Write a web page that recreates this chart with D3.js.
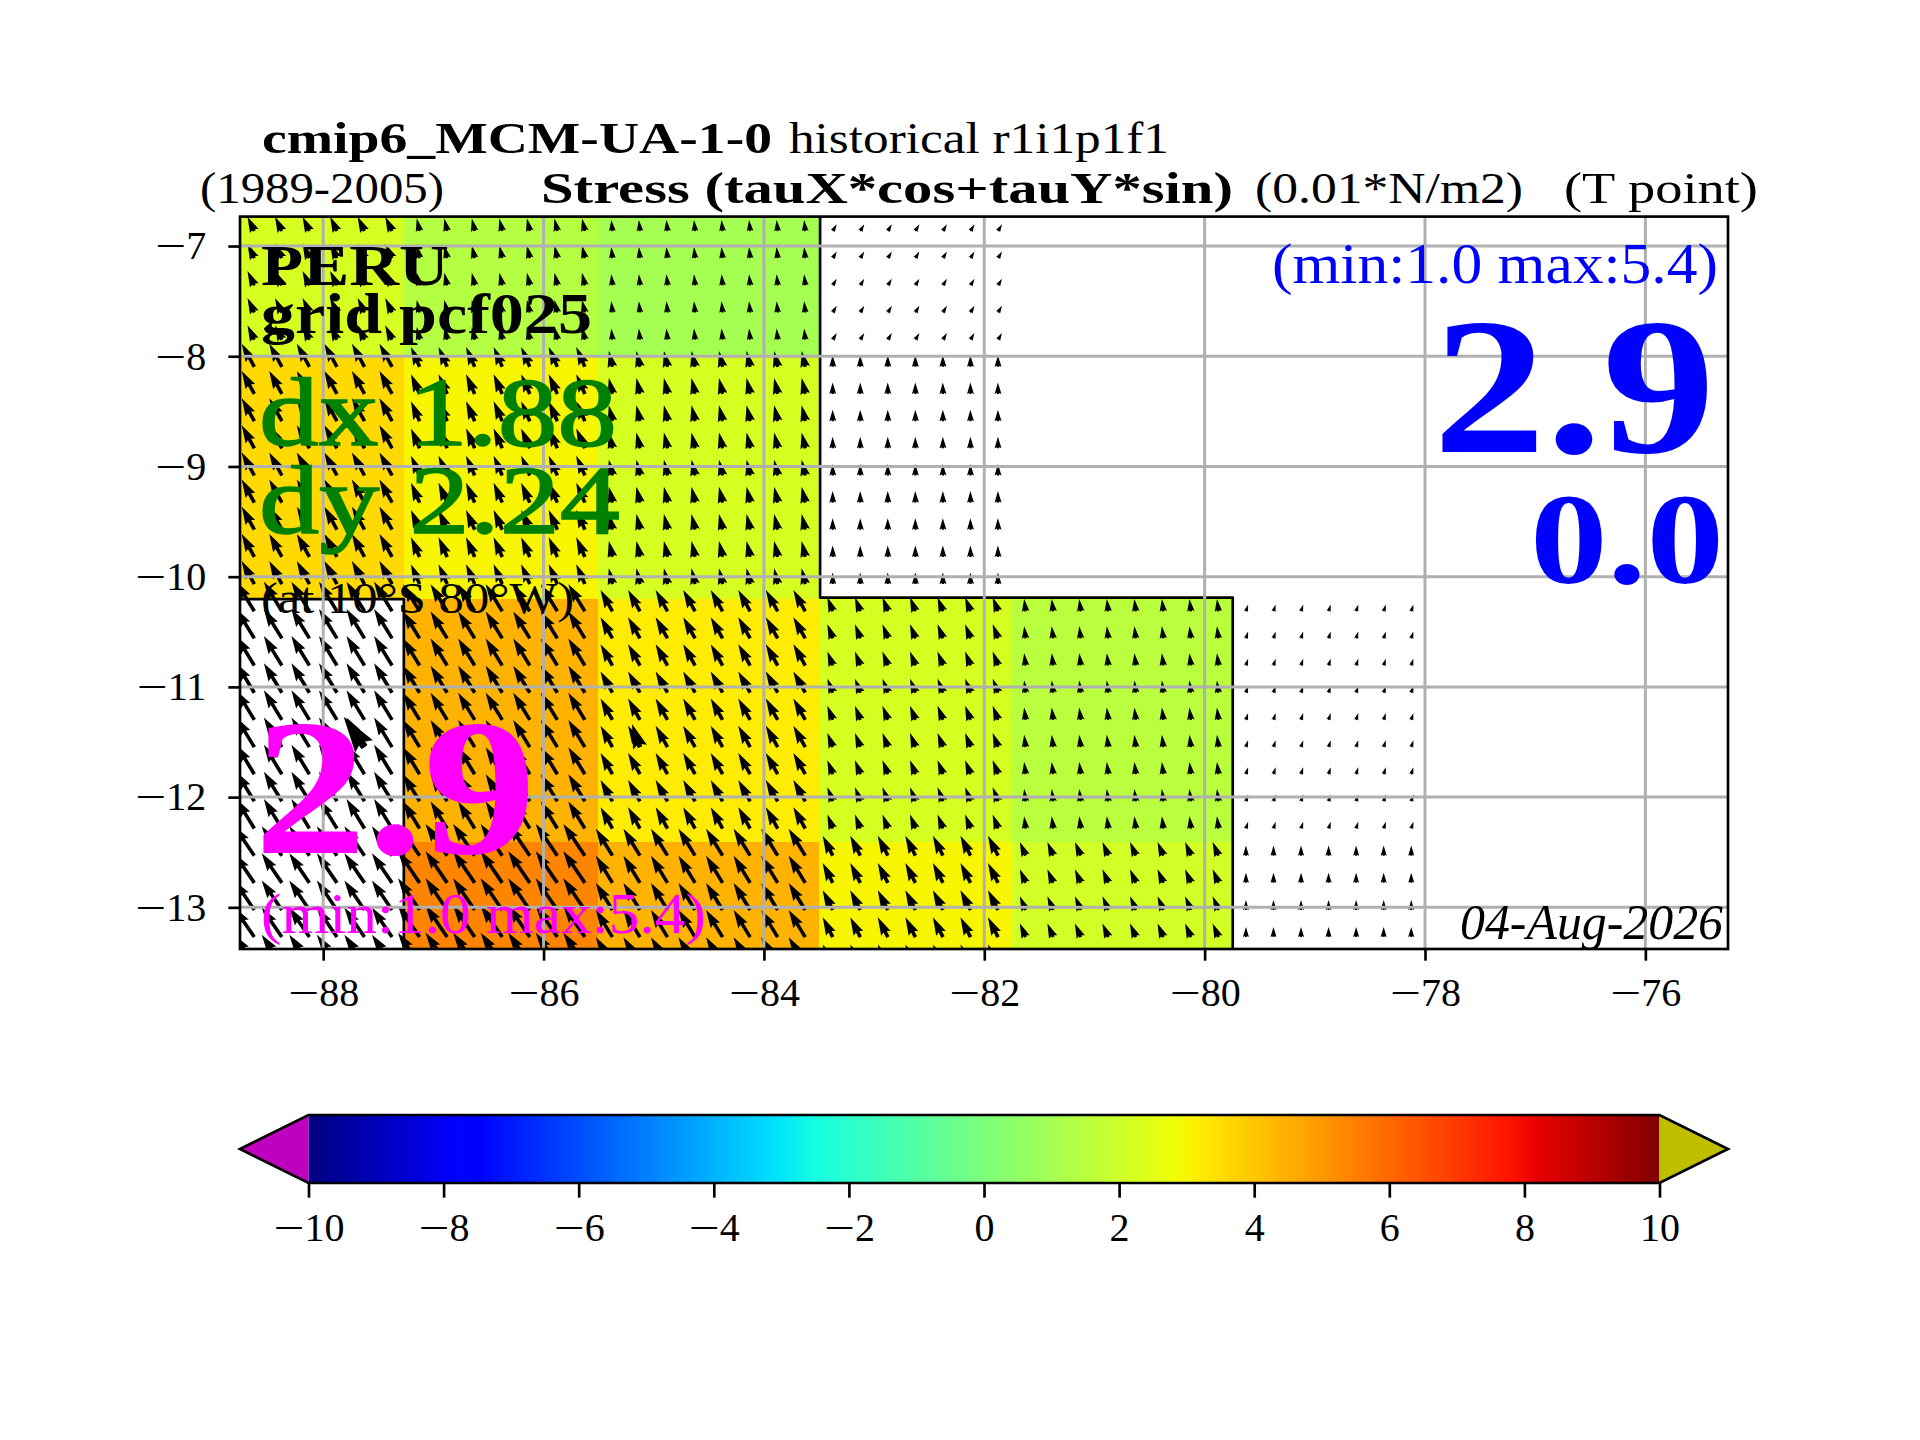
<!DOCTYPE html>
<html>
<head>
<meta charset="utf-8">
<script src="https://cdn.jsdelivr.net/npm/d3@7"></script>
<style>
	html, body { margin: 0; padding: 0; background: #fff; }
	text { font-family: "Liberation Serif", "DejaVu Serif", serif; }
</style>
</head>
<body>
<div id="vis"></div>
<script>
// cell edges of the regridded field
const LON_EDGES = [-88.755, -87.268, -85.507, -83.5, -81.76, -79.745, -78.0];
const LAT_EDGES = [-6.733, -7.989, -10.203, -12.408, -13.378];

// colour values per cell, null = masked (white)
const CELL_VALUES = [
	[2.2, 1.4, 1.0, null, null, null],
	[3.6, 3.0, 2.2, null, null, null],
	[null, 4.4, 3.2, 2.2, 1.5, null],
	[null, 5.4, 4.4, 3.0, 2.1, null]
];

// stress components per cell, null = no arrows
const TAU_X = [
	[-0.95, -0.4, -0.15, 0.55, null, null],
	[-1.75, -1.2, -0.5, -0.02, null, null],
	[-2.5, -2.3, -1.65, -0.75, -0.2, 0.3],
	[-2.8, -3.0, -2.3, -1.4, -0.8, 0.0]
];
const TAU_Y = [
	[2.0, 1.75, 1.55, 0.93, null, null],
	[3.2, 2.75, 2.2, 1.6, null, null],
	[4.1, 3.75, 2.95, 1.95, 1.7, 0.95],
	[4.1, 4.4, 3.75, 2.75, 1.9, 1.4]
];

// arrow grid
const ARROW_LONS = [-88.625, -88.375, -88.125, -87.875, -87.625, -87.375, -87.125, -86.875, -86.625, -86.375, -86.125,
	-85.875, -85.625, -85.375, -85.125, -84.875, -84.625, -84.375, -84.125, -83.875, -83.625, -83.375,
	-83.125, -82.875, -82.625, -82.375, -82.125, -81.875, -81.625, -81.375, -81.125, -80.875, -80.625,
	-80.375, -80.125, -79.875, -79.625, -79.375, -79.125, -78.875, -78.625, -78.375, -78.125];
const ARROW_LATS = [-6.864, -7.110, -7.357, -7.603, -7.850, -8.096, -8.342, -8.589, -8.835, -9.082, -9.328, -9.574,
	-9.821, -10.067, -10.314, -10.560, -10.806, -11.053, -11.299, -11.546, -11.792, -12.038, -12.285,
	-12.531, -12.778, -13.024, -13.270, -13.517];

// the two heavier arrows: lon, lat, tauX, tauY
const BOLD_ARROWS = [
	[-87.625, -11.546, -2.9, 4.2],
	[-85.125, -11.546, -1.1, 3.2]
];

// black contour round the masked cells
const CONTOURS = [
	[[-88.755, -10.203], [-87.268, -10.203], [-87.268, -13.378]],
	[[-83.49, -6.733], [-83.49, -10.19], [-79.745, -10.19], [-79.745, -13.378]]
];

// ticks
const X_TICKS = [-88, -86, -84, -82, -80, -78, -76];
const Y_TICKS = [-13, -12, -11, -10, -9, -8, -7];
const CBAR_TICKS = [-10, -8, -6, -4, -2, 0, 2, 4, 6, 8, 10];

// jet colormap anchors
const JET_R = [[0, 0], [0.35, 0], [0.66, 1], [0.89, 1], [1, 0.5]];
const JET_G = [[0, 0], [0.125, 0], [0.375, 1], [0.64, 1], [0.91, 0], [1, 0]];
const JET_B = [[0, 0.5], [0.11, 1], [0.34, 1], [0.65, 0], [1, 0]];

// set constants
const FRAME_WIDTH = 1920;
const FRAME_HEIGHT = 1440;
const PLOT = {left: 240, right: 1728, top: 216.6, bottom: 949};
const CBAR = {left: 308.5, right: 1659.5, top: 1115, bottom: 1183, tipLeft: 240, tipRight: 1728};
const LW = 2.67;
const GRID_W = 3;
const TICK_LEN = 11.67;
const ARROW_SCALE = 7.2;
const ARROW_W = 3.6;
const BOLD_W = 7.2;
const MINUS_W = 31;

const FRAME = d3.select("#vis")
				.append("svg")
					.attr("width", FRAME_WIDTH)
					.attr("height", FRAME_HEIGHT)
					.style("display", "block");

const X_SCALE = d3.scaleLinear().domain([LON_EDGES[0], -75.25]).range([PLOT.left, PLOT.right]);
const Y_SCALE = d3.scaleLinear().domain([LAT_EDGES[4], LAT_EDGES[0]]).range([PLOT.bottom, PLOT.top]);
const C_SCALE = d3.scaleLinear().domain([-10, 10]).range([CBAR.left, CBAR.right]);

function channel(anchors) {
	return d3.scaleLinear().domain(anchors.map(a => a[0])).range(anchors.map(a => a[1]));
}
const R_CH = channel(JET_R), G_CH = channel(JET_G), B_CH = channel(JET_B);
function jet(value) {
	const t = (value + 10) / 20;
	return d3.rgb(R_CH(t) * 255, G_CH(t) * 255, B_CH(t) * 255).formatHex();
}

const defs = FRAME.append("defs");
defs.append("clipPath").attr("id", "plot-clip")
	.append("rect")
		.attr("x", PLOT.left)
		.attr("y", PLOT.top)
		.attr("width", PLOT.right - PLOT.left)
		.attr("height", PLOT.bottom - PLOT.top);

const plot = FRAME.append("g").attr("clip-path", "url(#plot-clip)");

// Cells
CELL_VALUES.forEach((row, r) => {
	row.forEach((val, c) => {
		if (val === null) return;
		plot.append("rect")
			.attr("x", X_SCALE(LON_EDGES[c]))
			.attr("y", Y_SCALE(LAT_EDGES[r]))
			.attr("width", X_SCALE(LON_EDGES[c + 1]) - X_SCALE(LON_EDGES[c]))
			.attr("height", Y_SCALE(LAT_EDGES[r + 1]) - Y_SCALE(LAT_EDGES[r]))
			.attr("fill", jet(val))
			.attr("shape-rendering", "crispEdges");
	});
});

// Contour
const LINE = d3.line().x(d => X_SCALE(d[0])).y(d => Y_SCALE(d[1]));
plot.selectAll(".contour")
	.data(CONTOURS)
	.enter()
	.append("path")
		.attr("class", "contour")
		.attr("d", LINE)
		.attr("fill", "none")
		.attr("stroke", "black")
		.attr("stroke-width", LW)
		.attr("stroke-linejoin", "round");

// quiver arrow along +x, tail at origin
function arrowPath(len, w) {
	const hl = 5 * w, ha = 4.5 * w, hw = 1.5 * w, sw = w / 2;
	let pts;
	if (len >= hl) {
		pts = [[0, -sw], [len - ha, -sw], [len - hl, -hw], [len, 0], [len - hl, hw], [len - ha, sw], [0, sw]];
	} else {
		const k = len / hl;
		pts = [[0, -sw], [hl - ha, -sw], [0, -hw], [hl, 0], [0, hw], [hl - ha, sw], [0, sw]]
			.map(p => [p[0] * k, p[1] * k]);
	}
	return "M" + pts.map(p => p.join(",")).join("L") + "Z";
}

function addArrow(lon, lat, tx, ty, w) {
	const len = Math.hypot(tx, ty) * ARROW_SCALE;
	const angle = Math.atan2(-ty, tx) * 180 / Math.PI;
	plot.append("path")
		.attr("d", arrowPath(len, w))
		.attr("transform", "translate(" + X_SCALE(lon) + "," + Y_SCALE(lat) + ") rotate(" + angle + ")")
		.attr("fill", "black");
}

// Arrows
ARROW_LATS.forEach(lat => {
	ARROW_LONS.forEach(lon => {
		const c = d3.bisectLeft(LON_EDGES, lon) - 1;
		const r = LAT_EDGES.filter(e => e > lat).length - 1;
		const row = Math.min(r, TAU_X.length - 1);
		const tx = TAU_X[row][c], ty = TAU_Y[row][c];
		if (tx === null) return;
		addArrow(lon, lat, tx, ty, ARROW_W);
	});
});
BOLD_ARROWS.forEach(d => addArrow(d[0], d[1], d[2], d[3], BOLD_W));

// Grid
plot.selectAll(".gx")
	.data(X_TICKS)
	.enter()
	.append("line")
		.attr("x1", d => X_SCALE(d)).attr("x2", d => X_SCALE(d))
		.attr("y1", PLOT.top).attr("y2", PLOT.bottom)
		.attr("stroke", "#b0b0b0").attr("stroke-width", GRID_W);
plot.selectAll(".gy")
	.data(Y_TICKS)
	.enter()
	.append("line")
		.attr("x1", PLOT.left).attr("x2", PLOT.right)
		.attr("y1", d => Y_SCALE(d)).attr("y2", d => Y_SCALE(d))
		.attr("stroke", "#b0b0b0").attr("stroke-width", GRID_W);

// Axes
function styleAxis(g) {
	g.select(".domain").remove();
	g.selectAll(".tick line").attr("stroke", "black").attr("stroke-width", LW);
	g.selectAll(".tick text")
		.attr("fill", "black")
		.style("font-family", '"Liberation Serif", serif')
		.style("font-size", "40px")
		.each(function(d) {
			// the wide minus sign of the reference
			const t = d3.select(this);
			t.text("");
			if (d < 0) {
				t.append("tspan")
					.attr("textLength", MINUS_W)
					.attr("lengthAdjust", "spacingAndGlyphs")
					.text("\u2212");
			}
			t.append("tspan").text(Math.abs(d));
		});
}
FRAME.append("g")
	.attr("transform", "translate(0," + PLOT.bottom + ")")
	.call(d3.axisBottom(X_SCALE).tickValues(X_TICKS).tickSize(TICK_LEN).tickPadding(17))
	.call(styleAxis);
FRAME.append("g")
	.attr("transform", "translate(" + PLOT.left + ",0)")
	.call(d3.axisLeft(Y_SCALE).tickValues(Y_TICKS).tickSize(TICK_LEN).tickPadding(22))
	.call(styleAxis);

// Plot frame
FRAME.append("rect")
	.attr("x", PLOT.left)
	.attr("y", PLOT.top)
	.attr("width", PLOT.right - PLOT.left)
	.attr("height", PLOT.bottom - PLOT.top)
	.attr("fill", "none")
	.attr("stroke", "black")
	.attr("stroke-width", LW);

// Colorbar gradient
const grad = defs.append("linearGradient").attr("id", "jet-grad");
const stops = Array.from(new Set([...JET_R, ...JET_G, ...JET_B].map(a => a[0]))).sort((a, b) => a - b);
stops.forEach(t => {
	grad.append("stop")
		.attr("offset", t)
		.attr("stop-color", jet(t * 20 - 10));
});
const cmid = (CBAR.top + CBAR.bottom) / 2;
FRAME.append("rect")
	.attr("x", CBAR.left)
	.attr("y", CBAR.top)
	.attr("width", CBAR.right - CBAR.left)
	.attr("height", CBAR.bottom - CBAR.top)
	.attr("fill", "url(#jet-grad)");
FRAME.append("path")
	.attr("d", "M" + CBAR.left + "," + CBAR.top + "L" + CBAR.tipLeft + "," + cmid + "L" + CBAR.left + "," + CBAR.bottom + "Z")
	.attr("fill", "#bf00bf");
FRAME.append("path")
	.attr("d", "M" + CBAR.right + "," + CBAR.top + "L" + CBAR.tipRight + "," + cmid + "L" + CBAR.right + "," + CBAR.bottom + "Z")
	.attr("fill", "#bfbf00");
FRAME.append("path")
	.attr("d", "M" + CBAR.left + "," + CBAR.top + "L" + CBAR.right + "," + CBAR.top + "L" + CBAR.tipRight + "," + cmid +
		"L" + CBAR.right + "," + CBAR.bottom + "L" + CBAR.left + "," + CBAR.bottom + "L" + CBAR.tipLeft + "," + cmid + "Z")
	.attr("fill", "none")
	.attr("stroke", "black")
	.attr("stroke-width", LW)
	.attr("stroke-linejoin", "miter");
FRAME.append("g")
	.attr("transform", "translate(0," + CBAR.bottom + ")")
	.call(d3.axisBottom(C_SCALE).tickValues(CBAR_TICKS).tickSize(TICK_LEN + 3).tickPadding(15))
	.call(styleAxis);

// Text labels
function label(str, x1, x2, y, size, color, weight, style, heavy) {
	FRAME.append("text")
		.attr("x", x1)
		.attr("y", y)
		.attr("textLength", x2 - x1)
		.attr("lengthAdjust", "spacingAndGlyphs")
		.style("font-size", size + "px")
		.style("font-weight", weight || "normal")
		.style("font-style", style || "normal")
		.attr("fill", color)
		.attr("stroke", heavy ? color : "none")
		.attr("stroke-width", heavy || 0)
		.text(str);
}

label("cmip6_MCM-UA-1-0", 262, 772, 153, 44, "black", "bold");
label("historical r1i1p1f1", 789, 1169, 153, 44, "black");
label("(1989-2005)", 200, 444, 203, 44, "black");
label("Stress (tauX*cos+tauY*sin)", 541, 1233, 203, 44, "black", "bold");
label("(0.01*N/m2)", 1255, 1523, 203, 44, "black");
label("(T point)", 1564, 1758, 203, 44, "black");

label("PERU", 261, 449, 285, 58, "black", "bold");
label("grid pcf025", 261, 592, 333, 56, "black", "bold");
label("dx 1.88", 259, 617, 445, 98, "green", "normal", "normal", 1.5);
label("dy 2.24", 259, 620, 533, 98, "green", "normal", "normal", 1.5);
label("(at 10\u00b0S 80\u00b0W)", 261, 574, 613, 44, "black");
label("2.9", 254, 536, 853, 196, "#ff00ff", "bold");
label("(min:1.0 max:5.4)", 261, 706, 933, 56, "#ff00ff");

label("(min:1.0 max:5.4)", 1272, 1718, 283, 56, "blue");
label("2.9", 1433, 1715, 452, 196, "blue", "bold");
label("0.0", 1530, 1724, 583, 130, "blue", "bold");
label("04-Aug-2026", 1460, 1723, 939, 50, "black", "normal", "italic");
</script>
</body>
</html>
